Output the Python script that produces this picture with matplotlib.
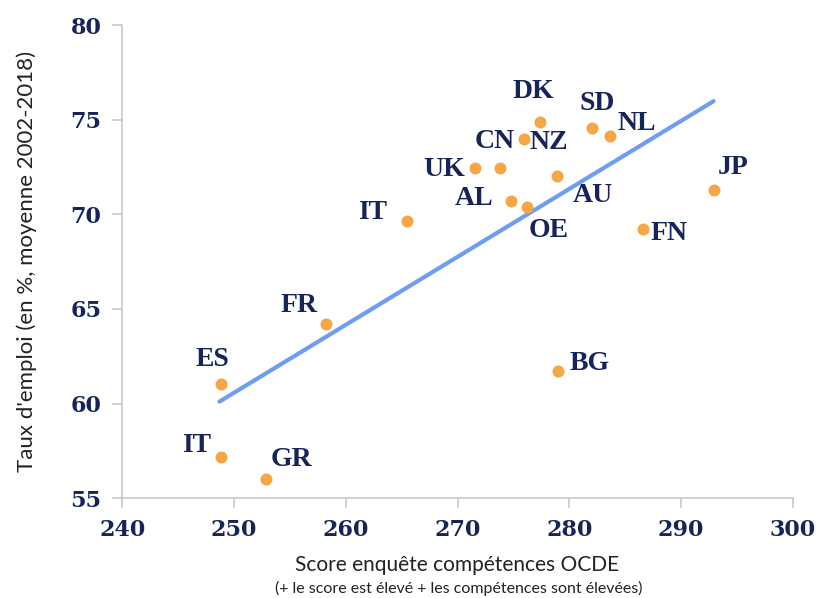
import matplotlib.pyplot as plt

# données
pays = ['ES', 'IT', 'GR', 'FR', 'IT', 'UK', '', 'CN', 'DK', 'SD', 'NL',
        'AU', 'AL', 'OE', 'JP', 'FN', 'BG']
score = [248.8, 248.8, 252.9, 258.2, 265.5, 271.6, 273.8, 275.9, 277.4,
         282.0, 283.6, 278.9, 274.8, 276.2, 292.9, 286.6, 279.0]
emploi = [61.04, 57.15, 55.99, 64.18, 69.64, 72.46, 72.46, 73.97, 74.89,
          74.57, 74.13, 72.02, 70.71, 70.40, 71.28, 69.25, 61.70]

tendance_x = [248.7, 292.9]
tendance_y = [60.1, 75.98]

# décalage des étiquettes (pixels)
decalages = [(-8, 24), (-24, 12), (25, 20), (-27, 19), (-35, 9), (-31, -2),
             (0, 0), (-29, -2), (-7, 30), (5, 24), (27, 13), (36, -19),
             (-37, 2), (22, -24), (20, 23), (26, -5), (31, 8)]
# NZ est placé à droite du point CN
nz_decalage = (25, -3)

navy = '#16245a'
orange = '#f7a645'
bleu = '#6f9df0'
gris = '#c8c8c8'
police_axe = ['Lato', 'DejaVu Sans']

fig = plt.figure(figsize=(8.2, 5.98), dpi=100)
ax = fig.add_axes([0.149, 0.167, 0.818, 0.791])

ax.plot(tendance_x, tendance_y, color=bleu, lw=3, solid_capstyle='round', zorder=2)
ax.scatter(score, emploi, s=75, color=orange, zorder=3, linewidths=0)

for p, x, y, d in zip(pays, score, emploi, decalages):
    if p:
        ax.annotate(p, (x, y), xytext=d, textcoords='offset pixels',
                    ha='center', va='center', fontsize=20, fontweight='bold',
                    family='Liberation Serif', color=navy)
ax.annotate('NZ', (score[7], emploi[7]), xytext=nz_decalage, textcoords='offset pixels',
            ha='center', va='center', fontsize=20, fontweight='bold',
            family='Liberation Serif', color=navy)

ax.set_xlim(240, 300)
ax.set_ylim(55, 80)
ax.set_xticks(range(240, 301, 10))
ax.set_yticks(range(55, 81, 5))

for s in ['top', 'right']:
    ax.spines[s].set_visible(False)
for s in ['left', 'bottom']:
    ax.spines[s].set_color(gris)
    ax.spines[s].set_linewidth(1.2)

ax.tick_params(axis='both', direction='out', length=7, color=gris, width=1.2,
               labelcolor=navy)
ax.tick_params(axis='x', pad=8)
ax.tick_params(axis='y', pad=8)
for lab in ax.get_xticklabels() + ax.get_yticklabels():
    lab.set_fontfamily('DejaVu Serif')
    lab.set_fontweight('bold')
    lab.set_fontsize(16)

ax.set_ylabel("Taux d'emploi (en %, moyenne 2002-2018)", fontsize=16,
              family=police_axe, color='#222222', labelpad=24)
ax.set_xlabel('Score enquête compétences OCDE', fontsize=15,
              family=police_axe, color='#222222', labelpad=10)
fig.text(0.56, 0.003, '(+ le score est élevé + les compétences sont élevées)',
         ha='center', va='bottom', fontsize=11.5, family=police_axe,
         color='#222222')

fig.savefig('out.png', dpi=100)
